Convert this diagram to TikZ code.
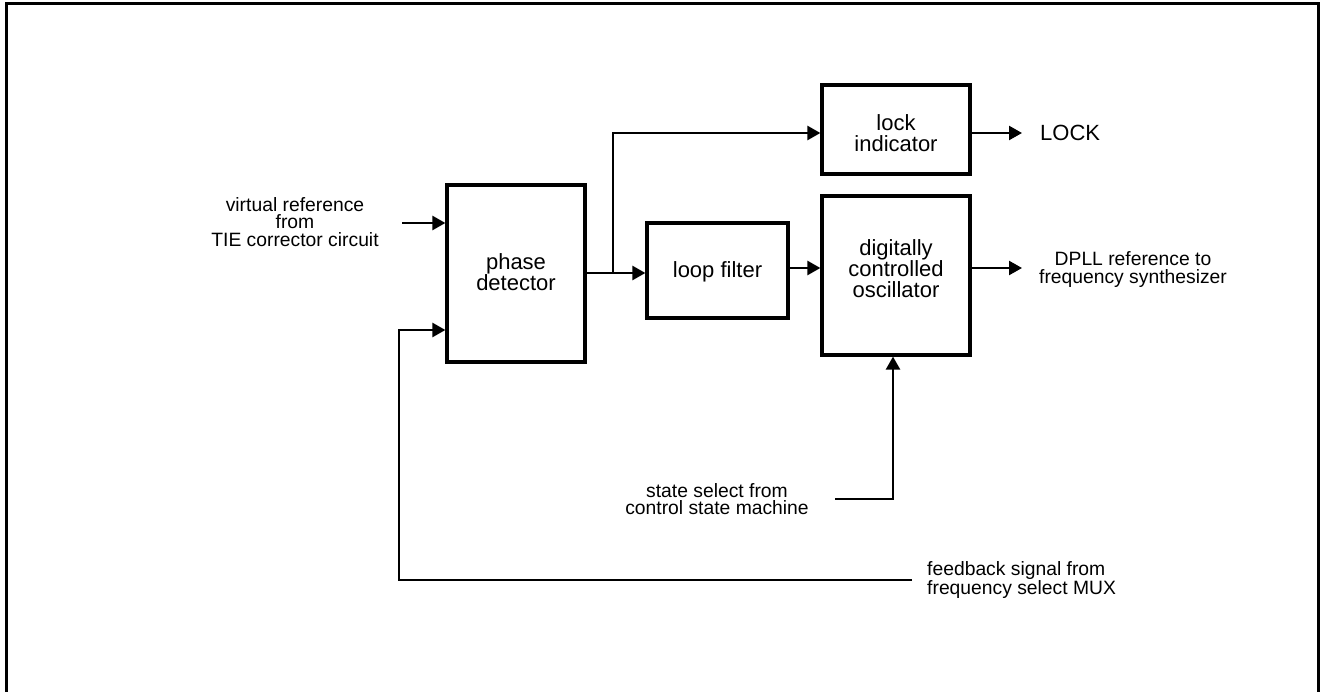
\documentclass[tikz,border=0pt]{standalone}
\usepackage{fontspec}
\setmainfont{Liberation Sans}
\usetikzlibrary{arrows.meta}
\begin{document}
\begin{tikzpicture}[x=1pt,y=-1pt,
  blk/.style={draw, line width=3.2pt, inner sep=0pt},
  txt/.style={align=center, inner sep=0pt, font=\fontsize{22}{21}\selectfont},
  lbl/.style={align=center, inner sep=0pt, font=\fontsize{19.3}{17.8}\selectfont},
  conn/.style={line width=2.4pt, -{Triangle[length=13pt,width=14pt]}}]
\useasboundingbox (0,0) rectangle (1321,692);
\draw[line width=3pt] (6,700) -- (6,4) -- (1318,4) -- (1318,700);
% blocks
\node[blk, minimum width=138, minimum height=177] (pd) at (516,273.5) {};
\node[blk, minimum width=141, minimum height=95] (lf) at (717.5,270.5) {};
\node[blk, minimum width=148, minimum height=89] (li) at (896,129.5) {};
\node[blk, minimum width=148, minimum height=159] (dco) at (896,275.5) {};
\node[txt] (pdt) at (516,272) {phase\\detector};
\node[txt] (lft) at (717.5,272) {loop filter};
\node[txt] (lit) at (896,133) {lock\\indicator};
\node[txt] (dcot) at (896,269) {digitally\\controlled\\oscillator};
% labels
\node[lbl] (vref) at (295,222) {virtual reference\\from\\TIE corrector circuit};
\node[lbl] (dpll) at (1133,269.5) {DPLL reference to\\frequency synthesizer};
\node[lbl] (ss) at (717,499) {state select from\\control state machine};
\node[lbl, anchor=west, align=left] (fb) at (927,580) {feedback signal from\\frequency select MUX};
\node[txt, anchor=west] (lock) at (1040,133) {LOCK};
% connectors
\coordinate (vin) at (402,223);
\draw[conn] (vin) -- (vin -| pd.west);
\coordinate (fbe) at (912,580);
\coordinate (fbc) at (399,580);
\coordinate (fbu) at (399,330);
\draw[conn] (fbe) -- (fbc) -- (fbu) -- (fbu -| pd.west);
\coordinate (j) at (613,273);
\draw[conn] (pd.east |- j) -- (j -| lf.west);
\coordinate (lu) at (613,133);
\draw[conn] (j) -- (lu) -- (lu -| li.west);
\coordinate (lo) at (1022,133);
\draw[conn] (lo -| li.east) -- (lo);
\coordinate (m) at (0,268);
\draw[conn] (m -| lf.east) -- (m -| dco.west);
\coordinate (dout) at (1022,268);
\draw[conn] (dout -| dco.east) -- (dout);
\coordinate (sse) at (835,499);
\coordinate (ssc) at (893,499);
\draw[conn] (sse) -- (ssc) -- (ssc |- dco.south);
\end{tikzpicture}
\end{document}
